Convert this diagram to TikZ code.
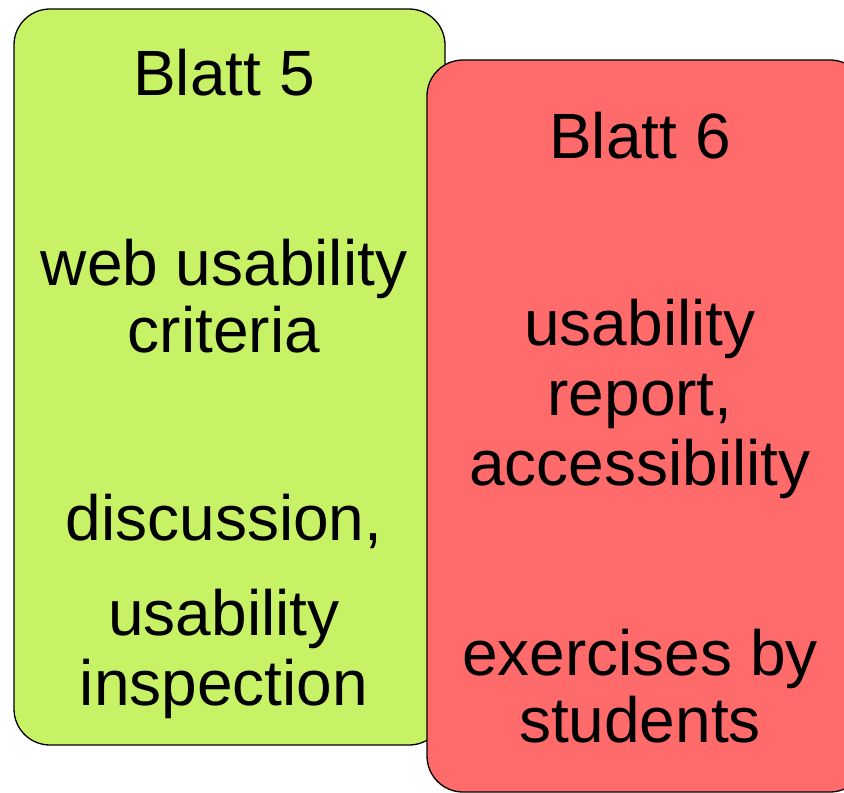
\documentclass[tikz,border=0pt]{standalone}
\usepackage{fontspec}
\setmainfont{Liberation Sans}
\definecolor{lgreen}{RGB}{200,242,102}
\definecolor{lred}{RGB}{255,107,107}
\begin{document}
\begin{tikzpicture}[x=1pt,y=-1pt,
  card/.style={draw=black,line width=1.3pt,rounded corners=36pt},
  txt/.style={anchor=base,inner sep=0pt,font=\fontsize{64}{70}\selectfont}]
\useasboundingbox (0,0) rectangle (844,793);
\filldraw[card,fill=lgreen] (14,9) rectangle (445,745);
\filldraw[card,fill=lred] (427,60) rectangle (866,792);
\node[txt] (g1) at (224,95) {Blatt 5};
\node[txt] (g2) at (224,285) {web usability};
\node[txt] (g3) at (224,352) {criteria};
\node[txt] (g4) at (224,540) {discussion,};
\node[txt] (g5) at (224,635) {usability};
\node[txt] (g6) at (224,705) {inspection};
\node[txt] (r1) at (640,158) {Blatt 6};
\node[txt] (r2) at (640,345) {usability};
\node[txt] (r3) at (640,415) {report,};
\node[txt] (r4) at (640,485) {accessibility};
\node[txt] (r5) at (640,675) {exercises by};
\node[txt] (r6) at (640,742) {students};
\end{tikzpicture}
\end{document}
